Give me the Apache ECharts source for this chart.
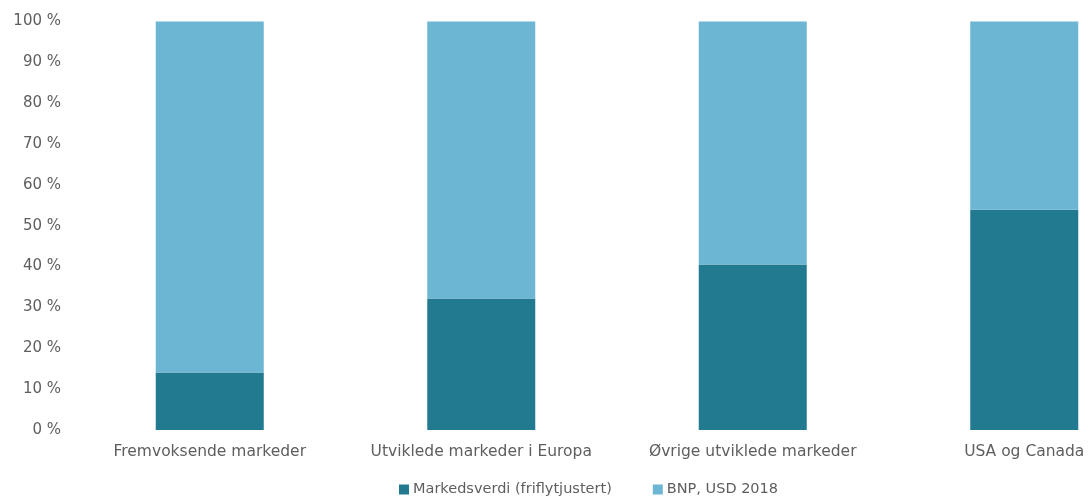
<!DOCTYPE html>
<html>
<head>
<meta charset="utf-8">
<script src="https://cdn.jsdelivr.net/npm/echarts@6/dist/echarts.min.js"></script>
<style>
  html, body { margin: 0; padding: 0; background: #ffffff; overflow: hidden; }
  /* the plot runs past the right edge of the window, so the last bar sits near the border */
  #chart { width: 1161px; height: 499px; }
</style>
</head>
<body>
<div id="chart"></div>
<script>
// Regions on the x axis
const categories = [
  'Fremvoksende markeder',
  'Utviklede markeder i Europa',
  'Øvrige utviklede markeder',
  'USA og Canada'
];

// Share of each region, per cent (stacks to 100 %)
const markedsverdi = [14.1, 32.2, 40.5, 53.9];
const bnp = [85.9, 67.8, 59.5, 46.1];

const seriesNames = ['Markedsverdi (friflytjustert)', 'BNP, USD 2018'];

// Value axis ticks
const yMin = 0;
const yMax = 100;
const yStep = 10;

const textColor = '#5e5e5e';
const fontFamily = '"DejaVu Sans", "Liberation Sans", Arial, sans-serif';

const chart = echarts.init(document.getElementById('chart'), null, { renderer: 'canvas' });

chart.setOption({
  backgroundColor: '#ffffff',
  animation: false,
  color: ['#217a8f', '#6cb6d4'],
  grid: {
    left: 74,
    top: 21.5,
    width: 1086,
    height: 408.5
  },
  legend: {
    data: seriesNames,
    top: 477,
    left: 394,
    itemWidth: 10,
    itemHeight: 10,
    itemGap: 41,
    icon: 'rect',
    textStyle: { color: textColor, fontSize: 14.5, fontFamily: fontFamily, padding: [0, 0, 0, -1] }
  },
  xAxis: {
    type: 'category',
    data: categories,
    axisLine: { show: false },
    axisTick: { show: false },
    axisLabel: {
      color: textColor,
      fontSize: 15.5,
      fontFamily: fontFamily,
      margin: 14,
      interval: 0
    }
  },
  yAxis: {
    type: 'value',
    min: yMin,
    max: yMax,
    interval: yStep,
    splitLine: { show: false },
    axisLine: { show: false },
    axisTick: { show: false },
    axisLabel: {
      color: textColor,
      fontSize: 15,
      fontFamily: fontFamily,
      margin: 13,
      formatter: '{value} %'
    }
  },
  series: [
    {
      name: seriesNames[0],
      type: 'bar',
      stack: 'andel',
      barWidth: 108,
      data: markedsverdi
    },
    {
      name: seriesNames[1],
      type: 'bar',
      stack: 'andel',
      barWidth: 108,
      data: bnp
    }
  ]
});
</script>
</body>
</html>
